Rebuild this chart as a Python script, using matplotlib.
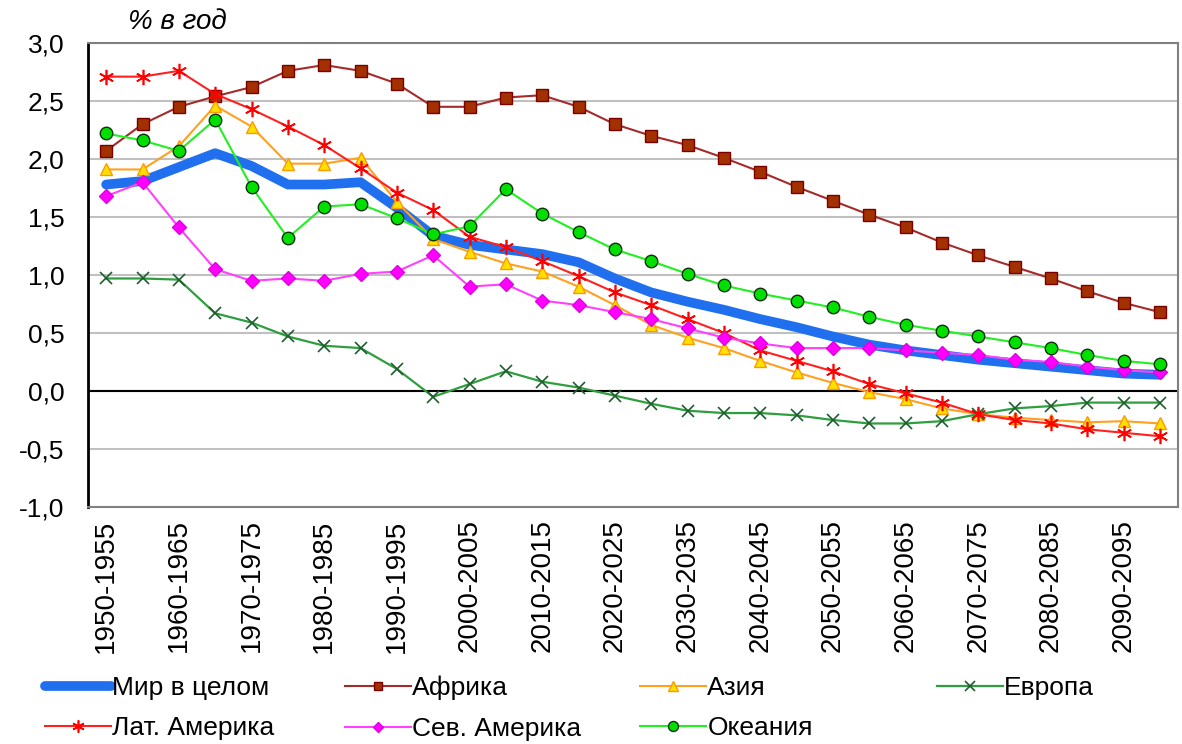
import numpy as np
import matplotlib
matplotlib.use("Agg")
import matplotlib.pyplot as plt
from matplotlib.ticker import FuncFormatter

plt.rcParams['font.family'] = ['Liberation Sans', 'DejaVu Sans']

# periods (30 five-year intervals)
periods = ["1950-1955", "1955-1960", "1960-1965", "1965-1970", "1970-1975",
           "1975-1980", "1980-1985", "1985-1990", "1990-1995", "1995-2000",
           "2000-2005", "2005-2010", "2010-2015", "2015-2020", "2020-2025",
           "2025-2030", "2030-2035", "2035-2040", "2040-2045", "2045-2050",
           "2050-2055", "2055-2060", "2060-2065", "2065-2070", "2070-2075",
           "2075-2080", "2080-2085", "2085-2090", "2090-2095", "2095-2100"]

world = [1.78, 1.81, 1.93, 2.05, 1.94, 1.78, 1.78, 1.80, 1.58, 1.34,
         1.26, 1.22, 1.18, 1.11, 0.97, 0.85, 0.77, 0.70, 0.62, 0.55,
         0.47, 0.40, 0.35, 0.31, 0.27, 0.24, 0.21, 0.18, 0.15, 0.14]
africa = [2.07, 2.30, 2.45, 2.54, 2.62, 2.76, 2.81, 2.76, 2.65, 2.45,
          2.45, 2.53, 2.55, 2.45, 2.30, 2.20, 2.12, 2.01, 1.89, 1.76,
          1.64, 1.52, 1.41, 1.28, 1.17, 1.07, 0.97, 0.86, 0.76, 0.68]
asia = [1.91, 1.91, 2.11, 2.46, 2.28, 1.96, 1.96, 2.01, 1.63, 1.31,
        1.20, 1.10, 1.03, 0.90, 0.74, 0.57, 0.46, 0.37, 0.26, 0.16,
        0.07, -0.01, -0.07, -0.15, -0.20, -0.23, -0.25, -0.27, -0.26, -0.28]
europe = [0.97, 0.97, 0.96, 0.67, 0.59, 0.47, 0.39, 0.37, 0.19, -0.05,
          0.06, 0.17, 0.08, 0.03, -0.04, -0.11, -0.17, -0.19, -0.19, -0.21,
          -0.25, -0.28, -0.28, -0.26, -0.20, -0.15, -0.13, -0.10, -0.10, -0.10]
latam = [2.71, 2.71, 2.76, 2.56, 2.43, 2.28, 2.12, 1.92, 1.71, 1.56,
         1.33, 1.24, 1.12, 0.99, 0.85, 0.74, 0.62, 0.50, 0.35, 0.26,
         0.17, 0.06, -0.02, -0.10, -0.20, -0.25, -0.28, -0.33, -0.36, -0.39]
namerica = [1.68, 1.80, 1.41, 1.05, 0.95, 0.97, 0.95, 1.01, 1.03, 1.17,
            0.90, 0.92, 0.78, 0.74, 0.68, 0.62, 0.54, 0.46, 0.41, 0.37,
            0.37, 0.37, 0.35, 0.33, 0.31, 0.27, 0.25, 0.21, 0.18, 0.16]
oceania = [2.22, 2.16, 2.07, 2.34, 1.76, 1.32, 1.59, 1.61, 1.49, 1.35,
           1.42, 1.74, 1.53, 1.37, 1.22, 1.12, 1.01, 0.91, 0.84, 0.78,
           0.72, 0.64, 0.57, 0.52, 0.47, 0.42, 0.37, 0.31, 0.26, 0.23]

x = np.arange(len(periods))

fig = plt.figure(figsize=(11.82, 7.44), dpi=100)
ax = fig.add_axes([88/1182, 1-507/744, 1090/1182, 464/744])

# series
h_world, = ax.plot(x, world, color='#1F6FEF', lw=7, solid_capstyle='round',
                   label='Мир в целом', zorder=3)
h_afr, = ax.plot(x, africa, color='#A52A2A', lw=1.5, marker='s', ms=8,
                 mfc='#A33000', mec='#7A0000', label='Африка', zorder=4)
h_asia, = ax.plot(x, asia, color='#FFA020', lw=1.5, marker='^', ms=9,
                  mfc='#FFE000', mec='#FF9900', label='Азия', zorder=4)
h_eur, = ax.plot(x, europe, color='#2E9E3E', lw=1.6, marker='x', ms=9,
                 mew=1.2, mec='#1E5E2E', label='Европа', zorder=4)
h_lat, = ax.plot(x, latam, color='#FF2020', lw=1.5, marker=(6, 2, 0), ms=11,
                 mew=1.2, mec='#FF0000', label='Лат. Америка', zorder=4)
h_nam, = ax.plot(x, namerica, color='#FF40FF', lw=1.5, marker='D', ms=7,
                 mfc='#FF00FF', mec='#E000E0', label='Сев. Америка', zorder=4)
h_oce, = ax.plot(x, oceania, color='#20F020', lw=1.5, marker='o', ms=9,
                 mfc='#00E000', mec='#103010', label='Океания', zorder=4)

# axes
ax.set_xlim(-0.5, len(periods) - 0.5)
ax.set_ylim(-1.0, 3.0)
ax.set_yticks(np.arange(-1.0, 3.01, 0.5))
ax.yaxis.set_major_formatter(FuncFormatter(lambda v, p: f"{v:.1f}".replace('.', ',')))
ax.set_xticks(x[::2])
ax.set_xticklabels(periods[::2], rotation=90)
ax.tick_params(axis='y', length=0, labelsize=19, pad=17)
ax.tick_params(axis='x', length=0, labelsize=20, pad=9)

ax.grid(axis='y', color='#C0C0C0', lw=1.5, zorder=0)
ax.axhline(0, color='black', lw=1.5, zorder=2)
for s in ['top', 'right', 'bottom']:
    ax.spines[s].set_color('#808080')
    ax.spines[s].set_linewidth(1.5)
ax.spines['left'].set_color('black')
ax.spines['left'].set_linewidth(2)

fig.text(128/1182, 1-22/744, '% в год', fontsize=20, style='italic',
         ha='left', va='center')

# legend: four columns placed separately
cols = [([h_world, h_lat], 45), ([h_afr, h_nam], 345), ([h_asia, h_oce], 640), ([h_eur], 937)]
for hs, x0 in cols:
    fig.legend(handles=hs, labels=[h.get_label() for h in hs],
               loc='upper left', bbox_to_anchor=(x0/1182, 1-676/744),
               frameon=False, fontsize=19, handlelength=2.5,
               handletextpad=0.05, labelspacing=0.62, borderpad=0,
               borderaxespad=0, markerscale=0.8)

fig.savefig('out.png', dpi=100)
